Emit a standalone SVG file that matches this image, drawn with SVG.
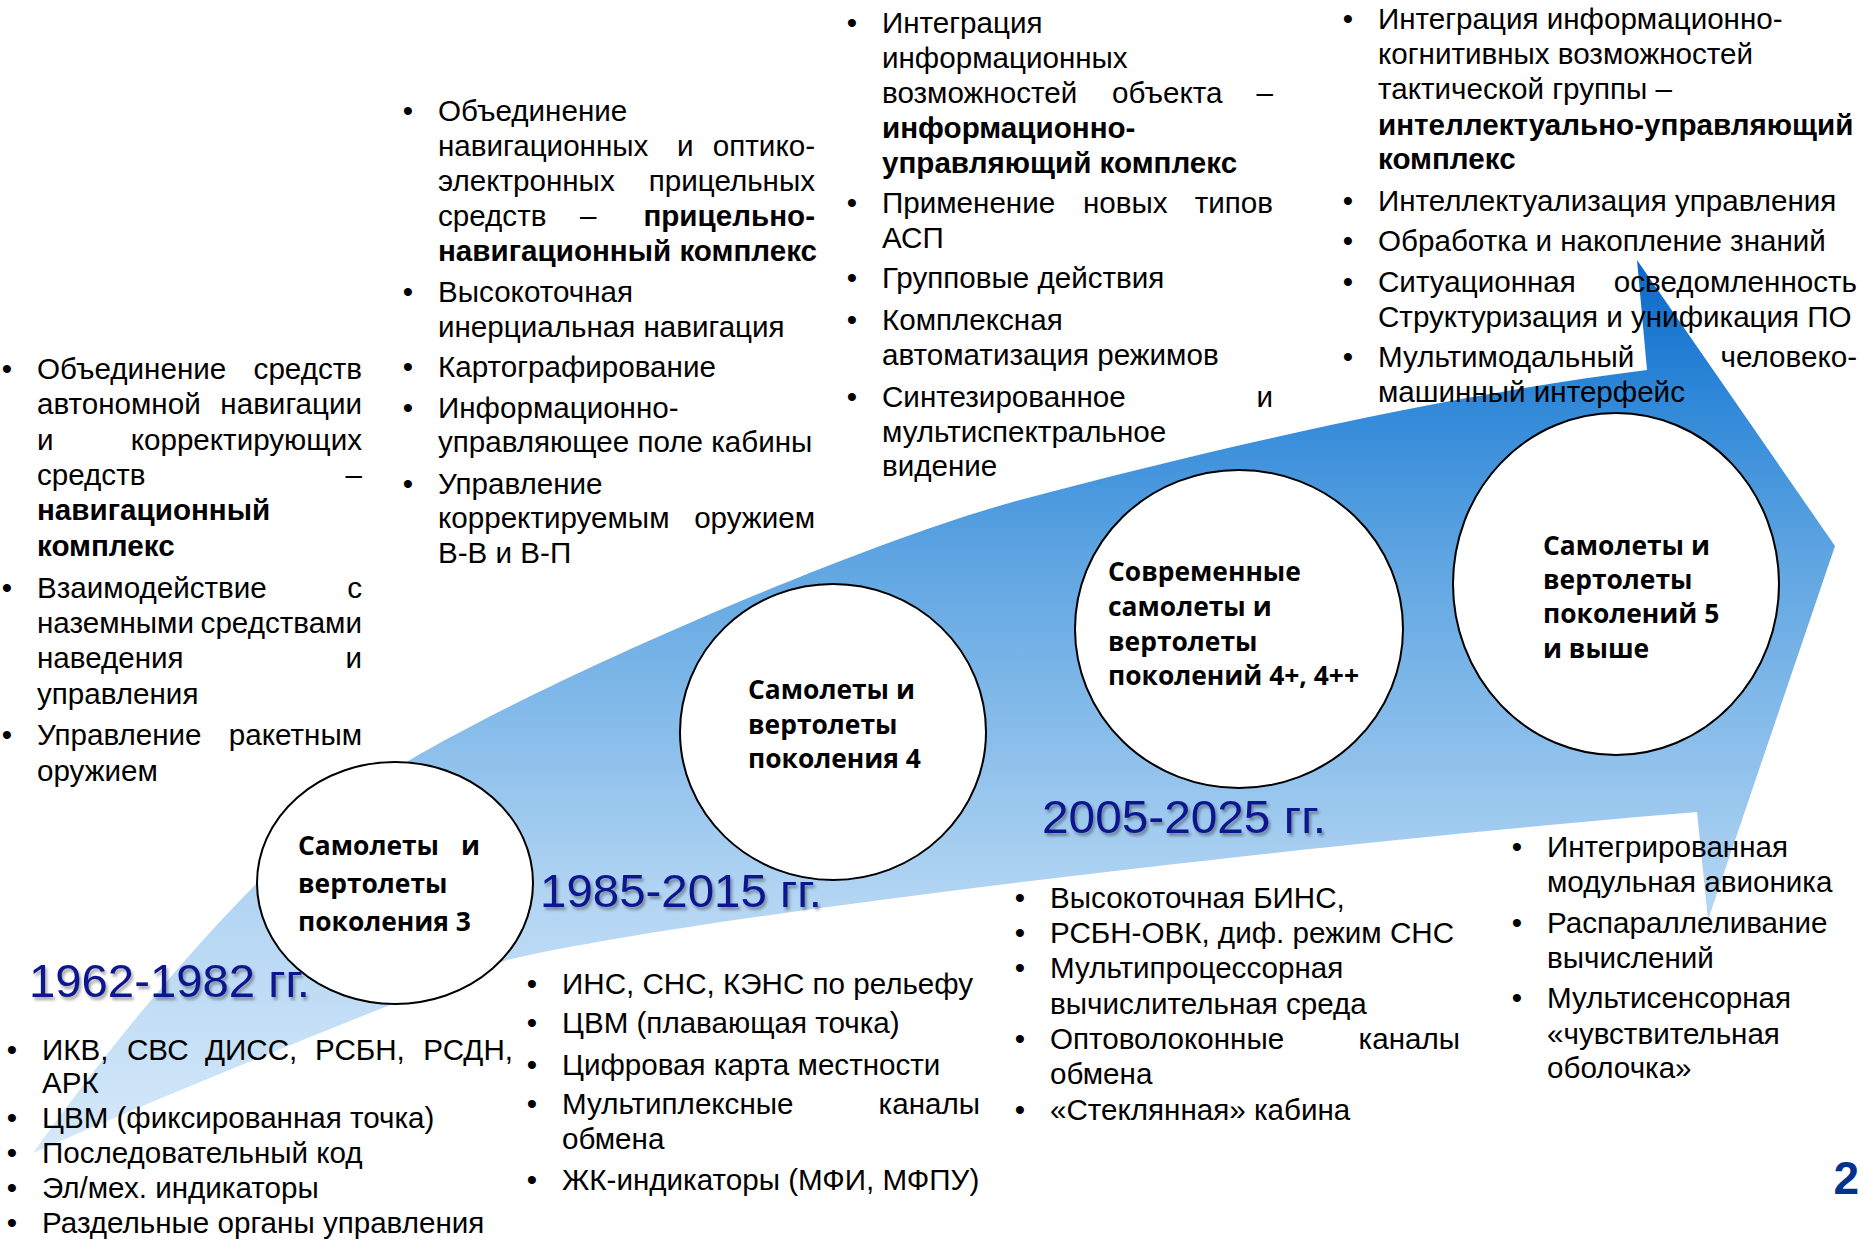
<svg xmlns="http://www.w3.org/2000/svg" width="1863" height="1241" viewBox="0 0 1863 1241">
<style>
.t{font-family:"Liberation Sans",Arial,sans-serif;font-size:29.6px;fill:#000}
.b{font-weight:bold}
.e{text-anchor:end}
.m{text-anchor:middle}
.c{font-family:"Open Sans","Noto Sans",sans-serif;font-weight:700;font-size:26.4px;fill:#000}
.y{font-family:"Liberation Sans",Arial,sans-serif;font-size:47px;fill:#0e148c}
.node{fill:#fff;stroke:#000;stroke-width:2}
</style>
<defs>
<linearGradient id="ag" gradientUnits="userSpaceOnUse" x1="0" y1="260" x2="0" y2="1155">
<stop offset="0" stop-color="#0b68c8"/>
<stop offset="0.156" stop-color="#2f88d8"/>
<stop offset="0.335" stop-color="#5fa5e2"/>
<stop offset="0.559" stop-color="#8fc1ec"/>
<stop offset="0.715" stop-color="#b3d5f3"/>
<stop offset="1" stop-color="#d6e9f9"/>
</linearGradient>
<filter id="sh" x="-10%" y="-30%" width="130%" height="170%">
<feDropShadow dx="2" dy="3" stdDeviation="1.5" flood-color="#000" flood-opacity="0.35"/>
</filter>
</defs>
<rect width="1863" height="1241" fill="#fff"/>
<g id="connectors">
<path id="arrow" fill="url(#ag)" d="M33,1153 C133,1013 290,824 410,760 C560,672 870,540 1020,500 C1220,447 1447,395 1647,370 L1637,260 L1835,546 L1708,920 L1697,812 C1300,845 700,915 507,960 C400,1000 200,1080 33,1153 Z"/>
</g>
<g id="gen3">
<ellipse class="node" cx="395" cy="883" rx="138" ry="121"/>
<text class="c" x="298" y="855">Самолеты</text><text class="c e" x="480" y="855">и</text>
<text class="c" x="298" y="893">вертолеты</text>
<text class="c" x="298" y="931">поколения 3</text>
</g>
<g id="gen4">
<ellipse class="node" cx="833" cy="732" rx="153" ry="148"/>
<text class="c" x="748" y="699">Самолеты и</text>
<text class="c" x="748" y="734">вертолеты</text>
<text class="c" x="748" y="768">поколения 4</text>
</g>
<g id="gen4plus">
<ellipse class="node" cx="1239" cy="629" rx="164" ry="159"/>
<text class="c" x="1108" y="581">Современные</text>
<text class="c" x="1108" y="616">самолеты и</text>
<text class="c" x="1108" y="651">вертолеты</text>
<text class="c" x="1108" y="685">поколений 4+, 4++</text>
</g>
<g id="gen5">
<ellipse class="node" cx="1616" cy="584" rx="163" ry="171"/>
<text class="c" x="1543" y="555">Самолеты и</text>
<text class="c" x="1543" y="589">вертолеты</text>
<text class="c" x="1543" y="623">поколений 5</text>
<text class="c" x="1543" y="658">и выше</text>
</g>
<g id="years" filter="url(#sh)">
<text class="y" x="29" y="997" textLength="281" lengthAdjust="spacingAndGlyphs">1962-1982 гг.</text>
<text class="y" x="540" y="907" textLength="282" lengthAdjust="spacingAndGlyphs">1985-2015 гг.</text>
<text class="y" x="1042" y="833" textLength="284" lengthAdjust="spacingAndGlyphs">2005-2025 гг.</text>
</g>
<g id="textA">
<text class="t m" x="7" y="379">•</text>
<text class="t" x="37" y="379">Объединение</text><text class="t e" x="362" y="379">средств</text>
<text class="t" x="37" y="414">автономной</text><text class="t e" x="362" y="414">навигации</text>
<text class="t" x="37" y="450">и</text><text class="t e" x="362" y="450">корректирующих</text>
<text class="t" x="37" y="485">средств</text><text class="t e" x="362" y="485">–</text>
<text class="t b" x="37" y="520">навигационный</text>
<text class="t b" x="37" y="556">комплекс</text>
<text class="t m" x="7" y="598">•</text>
<text class="t" x="37" y="598">Взаимодействие</text><text class="t e" x="362" y="598">с</text>
<text class="t" x="37" y="633">наземными</text><text class="t e" x="362" y="633">средствами</text>
<text class="t" x="37" y="668">наведения</text><text class="t e" x="362" y="668">и</text>
<text class="t" x="37" y="704">управления</text>
<text class="t m" x="7" y="745">•</text>
<text class="t" x="37" y="745">Управление</text><text class="t e" x="362" y="745">ракетным</text>
<text class="t" x="37" y="781">оружием</text>
</g>
<g id="textB">
<text class="t m" x="408" y="121">•</text>
<text class="t" x="438" y="121">Объединение</text>
<text class="t" x="438" y="156">навигационных</text><text class="t" x="677" y="156">и</text><text class="t e" x="815" y="156">оптико-</text>
<text class="t" x="438" y="191">электронных</text><text class="t e" x="815" y="191">прицельных</text>
<text class="t" x="438" y="226">средств</text><text class="t" x="580" y="226">–</text><text class="t b e" x="815" y="226">прицельно-</text>
<text class="t b" x="438" y="261">навигационный комплекс</text>
<text class="t m" x="408" y="302">•</text>
<text class="t" x="438" y="302">Высокоточная</text>
<text class="t" x="438" y="337">инерциальная навигация</text>
<text class="t m" x="408" y="377">•</text>
<text class="t" x="438" y="377">Картографирование</text>
<text class="t m" x="408" y="418">•</text>
<text class="t" x="438" y="418">Информационно-</text>
<text class="t" x="438" y="452">управляющее поле кабины</text>
<text class="t m" x="408" y="494">•</text>
<text class="t" x="438" y="494">Управление</text>
<text class="t" x="438" y="528">корректируемым</text><text class="t e" x="815" y="528">оружием</text>
<text class="t" x="438" y="563">В-В и В-П</text>
</g>
<g id="textC">
<text class="t m" x="852" y="33">•</text>
<text class="t" x="882" y="33">Интеграция</text>
<text class="t" x="882" y="68">информационных</text>
<text class="t" x="882" y="103">возможностей</text><text class="t" x="1112" y="103">объекта</text><text class="t e" x="1273" y="103">–</text>
<text class="t b" x="882" y="138">информационно-</text>
<text class="t b" x="882" y="173">управляющий комплекс</text>
<text class="t m" x="852" y="213">•</text>
<text class="t" x="882" y="213">Применение</text><text class="t" x="1083" y="213">новых</text><text class="t e" x="1273" y="213">типов</text>
<text class="t" x="882" y="248">АСП</text>
<text class="t m" x="852" y="288">•</text>
<text class="t" x="882" y="288">Групповые действия</text>
<text class="t m" x="852" y="330">•</text>
<text class="t" x="882" y="330">Комплексная</text>
<text class="t" x="882" y="365">автоматизация режимов</text>
<text class="t m" x="852" y="407">•</text>
<text class="t" x="882" y="407">Синтезированное</text><text class="t e" x="1273" y="407">и</text>
<text class="t" x="882" y="442">мультиспектральное</text>
<text class="t" x="882" y="476">видение</text>
</g>
<g id="textD">
<text class="t m" x="1348" y="29">•</text>
<text class="t" x="1378" y="29">Интеграция информационно-</text>
<text class="t" x="1378" y="64">когнитивных возможностей</text>
<text class="t" x="1378" y="99">тактической группы –</text>
<text class="t b" x="1378" y="135">интеллектуально-управляющий</text>
<text class="t b" x="1378" y="169">комплекс</text>
<text class="t m" x="1348" y="211">•</text>
<text class="t" x="1378" y="211">Интеллектуализация управления</text>
<text class="t m" x="1348" y="251">•</text>
<text class="t" x="1378" y="251">Обработка и накопление знаний</text>
<text class="t m" x="1348" y="292">•</text>
<text class="t" x="1378" y="292">Ситуационная</text><text class="t e" x="1857" y="292">осведомленность</text>
<text class="t" x="1378" y="327">Структуризация и унификация ПО</text>
<text class="t m" x="1348" y="367">•</text>
<text class="t" x="1378" y="367">Мультимодальный</text><text class="t e" x="1857" y="367">человеко-</text>
<text class="t" x="1378" y="402">машинный интерфейс</text>
</g>
<g id="textE">
<text class="t m" x="12" y="1060">•</text>
<text class="t" x="42" y="1060">ИКВ,</text><text class="t" x="127" y="1060">СВС</text><text class="t" x="205" y="1060">ДИСС,</text><text class="t" x="315" y="1060">РСБН,</text><text class="t e" x="513" y="1060">РСДН,</text>
<text class="t" x="42" y="1093">АРК</text>
<text class="t m" x="12" y="1128">•</text>
<text class="t" x="42" y="1128">ЦВМ (фиксированная точка)</text>
<text class="t m" x="12" y="1163">•</text>
<text class="t" x="42" y="1163">Последовательный код</text>
<text class="t m" x="12" y="1198">•</text>
<text class="t" x="42" y="1198">Эл/мех. индикаторы</text>
<text class="t m" x="12" y="1233">•</text>
<text class="t" x="42" y="1233">Раздельные органы управления</text>
</g>
<g id="textF">
<text class="t m" x="532" y="994">•</text>
<text class="t" x="562" y="994">ИНС, СНС, КЭНС по рельефу</text>
<text class="t m" x="532" y="1033">•</text>
<text class="t" x="562" y="1033">ЦВМ (плавающая точка)</text>
<text class="t m" x="532" y="1075">•</text>
<text class="t" x="562" y="1075">Цифровая карта местности</text>
<text class="t m" x="532" y="1114">•</text>
<text class="t" x="562" y="1114">Мультиплексные</text><text class="t e" x="980" y="1114">каналы</text>
<text class="t" x="562" y="1149">обмена</text>
<text class="t m" x="532" y="1190">•</text>
<text class="t" x="562" y="1190">ЖК-индикаторы (МФИ, МФПУ)</text>
</g>
<g id="textG">
<text class="t m" x="1020" y="908">•</text>
<text class="t" x="1050" y="908">Высокоточная БИНС,</text>
<text class="t m" x="1020" y="943">•</text>
<text class="t" x="1050" y="943">РСБН-ОВК, диф. режим СНС</text>
<text class="t m" x="1020" y="978">•</text>
<text class="t" x="1050" y="978">Мультипроцессорная</text>
<text class="t" x="1050" y="1014">вычислительная среда</text>
<text class="t m" x="1020" y="1049">•</text>
<text class="t" x="1050" y="1049">Оптоволоконные</text><text class="t e" x="1460" y="1049">каналы</text>
<text class="t" x="1050" y="1084">обмена</text>
<text class="t m" x="1020" y="1120">•</text>
<text class="t" x="1050" y="1120">«Стеклянная» кабина</text>
</g>
<g id="textH">
<text class="t m" x="1517" y="857">•</text>
<text class="t" x="1547" y="857">Интегрированная</text>
<text class="t" x="1547" y="892">модульная авионика</text>
<text class="t m" x="1517" y="933">•</text>
<text class="t" x="1547" y="933">Распараллеливание</text>
<text class="t" x="1547" y="968">вычислений</text>
<text class="t m" x="1517" y="1008">•</text>
<text class="t" x="1547" y="1008">Мультисенсорная</text>
<text class="t" x="1547" y="1044">«чувствительная</text>
<text class="t" x="1547" y="1078">оболочка»</text>
</g>
<text id="page" x="1859" y="1194" text-anchor="end" style="font-family:'Liberation Sans',Arial,sans-serif;font-weight:bold;font-size:46px;fill:#00338d">2</text>
</svg>
